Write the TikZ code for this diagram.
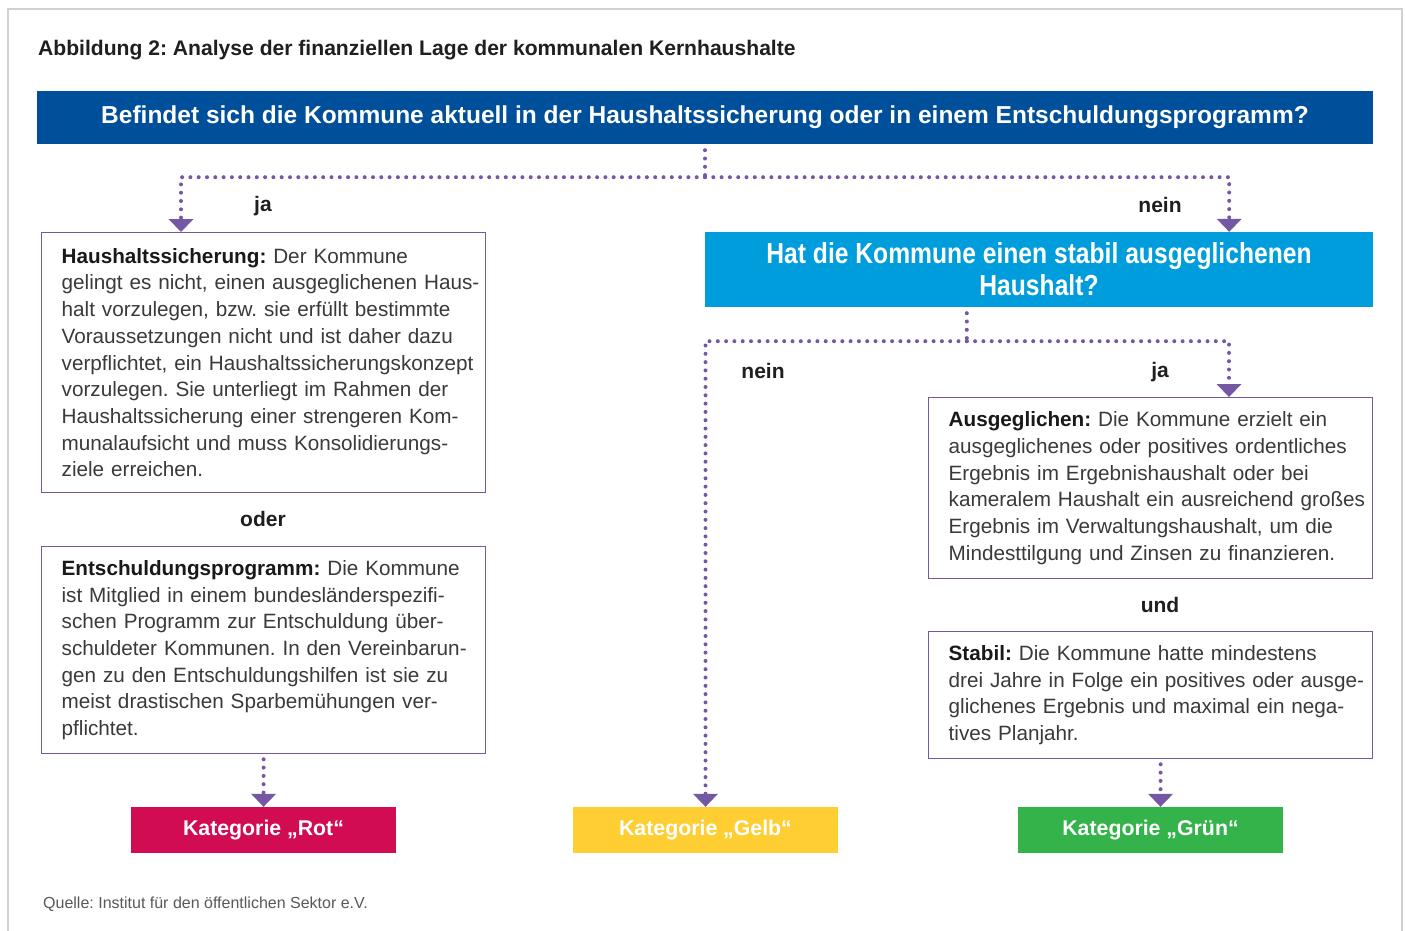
\documentclass[tikz,border=0pt]{standalone}
\usepackage{fontspec}
\setmainfont{Liberation Sans}
\newfontfamily\condfont[FakeStretch=0.85]{Liberation Sans}
\usetikzlibrary{arrows.meta,positioning,calc}

\definecolor{qblue}{HTML}{004F9A}
\definecolor{qcyan}{HTML}{009DDC}
\definecolor{linepurple}{HTML}{7558A3}
\definecolor{katrot}{HTML}{D20C52}
\definecolor{katgelb}{HTML}{FECE33}
\definecolor{katgruen}{HTML}{33B34A}
\definecolor{textgrey}{HTML}{3A3A3A}
\definecolor{framegrey}{HTML}{D0D0D0}

\frenchspacing
\hfuzz=60pt
% lines in the boxes may run a little into the right padding
\newcommand\boxlines{\rightskip=-30pt plus 1fil\relax}

\tikzset{
  infobox/.style={draw=linepurple, line width=1.3pt, anchor=north west,
    text width=404pt, inner xsep=20pt, inner ysep=0pt, align=left,
    text=textgrey, font=\fontsize{20.7}{26.7}\selectfont},
  katbox/.style={minimum width=265pt, minimum height=46pt, inner sep=0pt,
    text=white, font=\bfseries\fontsize{21.3}{24}\selectfont},
  branch/.style={font=\bfseries\fontsize{21}{24}\selectfont, text=black!88},
  dotline/.style={linepurple, line width=4pt, line cap=round,
    dash pattern=on 0pt off 8.3pt},
  dotarrow/.style={dotline, -{Triangle[width=25pt,length=13pt,line width=0pt]}}
}

\begin{document}
\begin{tikzpicture}[x=1pt,y=-1pt]
  %%%%% START %%%%%
  \useasboundingbox (0,0) rectangle (1405,931);
  \fill[white] (0,0) rectangle (1405,931);
  \draw[framegrey, line width=1.6pt] (8,9) rectangle (1402,960);

  \node[anchor=base west, inner sep=0pt, text=black!88,
    font=\bfseries\fontsize{21.1}{24}\selectfont] (title) at (38,55.5)
    {Abbildung 2: Analyse der finanziellen Lage der kommunalen Kernhaushalte};

  % questions
  \node[fill=qblue, minimum width=1336pt, minimum height=53pt, inner sep=0pt,
    text=white, font=\bfseries\fontsize{24.5}{28}\selectfont] (q1) at (705,117.5)
    {Befindet sich die Kommune aktuell in der Haushaltssicherung oder in einem Entschuldungsprogramm?};
  \node[fill=qcyan, minimum width=668pt, minimum height=75pt, inner sep=0pt,
    align=center, text=white, font=\condfont\bfseries\fontsize{29}{32}\selectfont] (q2) at (1039,269.5)
    {Hat die Kommune einen stabil ausgeglichenen\\Haushalt?};

  % left column
  \node[infobox, minimum height=260pt] (hs) at (41,232)
    {\boxlines\textcolor{black!90}{\textbf{Haushaltssicherung:}} Der Kommune\\
     gelingt es nicht, einen ausgeglichenen Haus-\\
     halt vorzulegen, bzw. sie erfüllt bestimmte\\
     Voraussetzungen nicht und ist daher dazu\\
     verpflichtet, ein Haushaltssicherungskonzept\\
     vorzulegen. Sie unterliegt im Rahmen der\\
     Haushaltssicherung einer strengeren Kom-\\
     munalaufsicht und muss Konsolidierungs-\\
     ziele erreichen.};
  \node[infobox, minimum height=207pt] (ep) at (41,546)
    {\boxlines\textcolor{black!90}{\textbf{Entschuldungsprogramm:}} Die Kommune\\
     ist Mitglied in einem bundesländerspezifi-\\
     schen Programm zur Entschuldung über-\\
     schuldeter Kommunen. In den Vereinbarun-\\
     gen zu den Entschuldungshilfen ist sie zu\\
     meist drastischen Sparbemühungen ver-\\
     pflichtet.};

  % right column
  \node[infobox, minimum height=181pt] (ag) at (928,397)
    {\boxlines\textcolor{black!90}{\textbf{Ausgeglichen:}} Die Kommune erzielt ein\\
     ausgeglichenes oder positives ordentliches\\
     Ergebnis im Ergebnishaushalt oder bei\\
     kameralem Haushalt ein ausreichend großes\\
     Ergebnis im Verwaltungshaushalt, um die\\
     Mindesttilgung und Zinsen zu finanzieren.};
  \node[infobox, minimum height=127pt] (st) at (928,631)
    {\boxlines\textcolor{black!90}{\textbf{Stabil:}} Die Kommune hatte mindestens\\
     drei Jahre in Folge ein positives oder ausge-\\
     glichenes Ergebnis und maximal ein nega-\\
     tives Planjahr.};

  % categories
  \node[katbox, fill=katrot] (rot) at (263.5,830) {Kategorie „Rot“};
  \node[katbox, fill=katgelb] (gelb) at (705.5,830) {Kategorie „Gelb“};
  \node[katbox, fill=katgruen] (gruen) at (1150.5,830) {Kategorie „Grün“};

  % branch labels
  \node[branch] (ja1) at (263,206) {ja};
  \node[branch] (nein1) at (1160,205) {nein};
  \node[branch] (oder) at (263,519) {oder};
  \node[branch] (nein2) at (763,371) {nein};
  \node[branch] (ja2) at (1160,372) {ja};
  \node[branch] (und) at (1160,605) {und};

  % connectors
  \coordinate (hsin) at ($(hs.north west)+(140,0)$);
  \coordinate (q2in) at ($(q2.north east)+(-144,0)$);
  \coordinate (q2out) at ($(q2.south west)+(262,0)$);
  \coordinate (agin) at ($(ag.north west)+(301,0)$);
  \coordinate (stout) at ($(st.south)+(10,0)$);
  \coordinate (gruenin) at ($(gruen.north)+(10,0)$);

  \draw[dotline, shorten <=6pt] (q1.south) -- ++(0,33) coordinate (fork1);
  \draw[dotarrow] (fork1) -| (hsin);
  \draw[dotarrow] (fork1) -| (q2in);

  \draw[dotline, shorten <=6pt] (q2out) -- ++(0,34) coordinate (fork2);
  \draw[dotarrow] (fork2) -| (gelb.north);
  \draw[dotarrow] (fork2) -| (agin);

  \draw[dotarrow, shorten <=5pt] (ep.south) -- (rot.north);
  \draw[dotarrow, shorten <=5pt] (stout) -- (gruenin);

  \node[anchor=base west, inner sep=0pt, text=black!65,
    font=\fontsize{16}{18}\selectfont] (quelle) at (43,908)
    {Quelle: Institut für den öffentlichen Sektor e.V.};
  %%%%% END %%%%%
\end{tikzpicture}
\end{document}
